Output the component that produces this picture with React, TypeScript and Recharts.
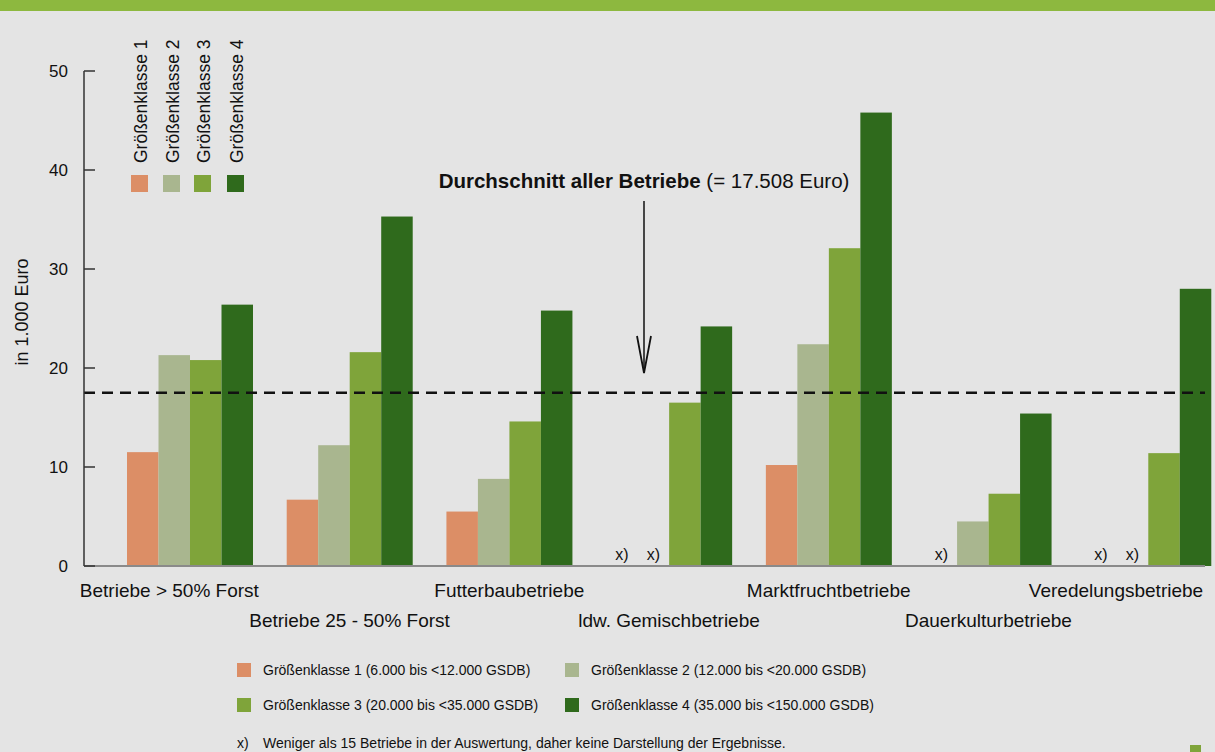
import { BarChart, Bar, XAxis, YAxis, ReferenceLine } from "recharts";

const categories = [
  "Betriebe > 50% Forst",
  "Betriebe 25 - 50% Forst",
  "Futterbaubetriebe",
  "ldw. Gemischbetriebe",
  "Marktfruchtbetriebe",
  "Dauerkulturbetriebe",
  "Veredelungsbetriebe",
];

// in 1.000 Euro, null = fewer than 15 farms ("x)")
const gk1 = [11.5, 6.7, 5.5, null, 10.2, null, null];
const gk2 = [21.3, 12.2, 8.8, null, 22.4, 4.5, null];
const gk3 = [20.8, 21.6, 14.6, 16.5, 32.1, 7.3, 11.4];
const gk4 = [26.4, 35.3, 25.8, 24.2, 45.8, 15.4, 28.0];

const yTicks = [0, 10, 20, 30, 40, 50];
const mean = 17.508;

const seriesNames = ["Größenklasse 1", "Größenklasse 2", "Größenklasse 3", "Größenklasse 4"];
const legendNames = [
  "Größenklasse 1 (6.000 bis <12.000 GSDB)",
  "Größenklasse 2 (12.000 bis <20.000 GSDB)",
  "Größenklasse 3 (20.000 bis <35.000 GSDB)",
  "Größenklasse 4 (35.000 bis <150.000 GSDB)",
];
const footnote = "Weniger als 15 Betriebe in der Auswertung, daher keine Darstellung der Ergebnisse.";

const colors = ["#dc8e66", "#a9b68f", "#7fa43a", "#2f6a1c"];
const FONT = "Arial, 'Liberation Sans', Helvetica, sans-serif";

const series = [gk1, gk2, gk3, gk4];
const keys = ["gk1", "gk2", "gk3", "gk4"];
const data = categories.map((name, i) => {
  const row: any = { name };
  series.forEach((s, k) => {
    row[keys[k]] = s[i] ?? 0;
    row["m" + k] = s[i] == null;
  });
  return row;
});

// bar shape: draws the rect, or "x)" where the group has no result
function makeShape(k: number) {
  return (props: any) => {
    const { x, y, width, height, payload } = props;
    if (payload["m" + k]) {
      return (
        <text x={x + width / 2} y={y + height - 6} textAnchor="middle" fontSize={16} fill="#111" fontFamily={FONT}>
          x)
        </text>
      );
    }
    return <rect x={x} y={y} width={width} height={height} fill={colors[k]} />;
  };
}

function CategoryTick(props: any) {
  const { x, y, payload, index } = props;
  let anchor: "start" | "middle" | "end" = "middle";
  let tx = x;
  if (index === 0) {
    anchor = "start";
    tx = x - 110;
  } else if (index === categories.length - 1) {
    anchor = "end";
    tx = x + 55;
  }
  return (
    <text x={tx} y={y + (index % 2 === 0 ? 31 : 61)} textAnchor={anchor} fontSize={19} fill="#111" fontFamily={FONT}>
      {payload.value}
    </text>
  );
}

export default function App() {
  return (
    <div
      style={{
        position: "absolute",
        left: 0,
        top: 0,
        width: 1215,
        height: 752,
        background: "#e4e4e4",
        overflow: "hidden",
        fontFamily: FONT,
      }}
    >
      <div style={{ position: "absolute", left: 0, top: 0, width: 1215, height: 11, background: "#8db83f" }} />
      <div style={{ position: "absolute", left: 0, top: 0 }}>
        <BarChart
          width={1215}
          height={752}
          data={data}
          margin={{ top: 71, right: 10, bottom: 106, left: 0 }}
          barGap={0}
          barSize={31.5}
        >
          <XAxis
            dataKey="name"
            interval={0}
            height={80}
            tickSize={0}
            tickMargin={0}
            tickLine={false}
            padding={{ left: 26, right: -23 }}
            axisLine={{ stroke: "#8a8a8a", strokeWidth: 2 }}
            tick={<CategoryTick />}
          />
          <YAxis
            width={84}
            domain={[0, 50]}
            ticks={yTicks}
            interval={0}
            tickSize={-11}
            tickMargin={27}
            axisLine={{ stroke: "#333", strokeWidth: 1.5 }}
            tickLine={{ stroke: "#333", strokeWidth: 1.5 }}
            tick={{ fontSize: 17, fill: "#111", fontFamily: FONT }}
          />
          {keys.map((key, k) => (
            <Bar
              key={key}
              dataKey={key}
              fill={colors[k]}
              isAnimationActive={false}
              minPointSize={(_v: number, i: number) => (series[k][i] == null ? 1 : 0)}
              shape={makeShape(k)}
            />
          ))}
          <ReferenceLine y={mean} stroke="#111" strokeWidth={2.5} strokeDasharray="11 7" />
        </BarChart>
      </div>
      <svg
        width={1215}
        height={752}
        style={{ position: "absolute", left: 0, top: 0, pointerEvents: "none" }}
        fontFamily={FONT}
      >
        {/* y title */}
        <text
          x={22}
          y={312}
          transform="rotate(-90 22 312)"
          textAnchor="middle"
          dominantBaseline="central"
          fontSize={18}
          fill="#111"
        >
          in 1.000 Euro
        </text>

        {/* top-left legend */}
        {seriesNames.map((n, i) => {
          const cx = [141, 173, 204, 237][i];
          return (
            <g key={n}>
              <text
                x={cx}
                y={163}
                transform={`rotate(-90 ${cx} 163)`}
                dominantBaseline="central"
                fontSize={17.5}
                fill="#111"
              >
                {n}
              </text>
              <rect x={cx - 10} y={175} width={17} height={17} fill={colors[i]} />
            </g>
          );
        })}

        {/* mean annotation */}
        <text x={644} y={188} textAnchor="middle" fontSize={20.5} fill="#111">
          <tspan fontWeight="bold">Durchschnitt aller Betriebe</tspan>
          <tspan> (= 17.508 Euro)</tspan>
        </text>
        <line x1={644} y1={201} x2={644} y2={372} stroke="#111" strokeWidth={1.5} />
        <polyline points="637,336 644,373 651,336" fill="none" stroke="#111" strokeWidth={1.8} />

        {/* bottom legend */}
        {legendNames.map((n, i) => {
          const lx = i % 2 === 0 ? 237 : 565;
          const ly = i < 2 ? 670 : 705;
          return (
            <g key={n}>
              <rect x={lx} y={ly - 7} width={14} height={14} fill={colors[i]} />
              <text x={lx + 26} y={ly} dominantBaseline="central" fontSize={14} fill="#111">
                {n}
              </text>
            </g>
          );
        })}
        <text x={237} y={743} dominantBaseline="central" fontSize={14} fill="#111">
          x)
        </text>
        <text x={263} y={743} dominantBaseline="central" fontSize={14} fill="#111">
          {footnote}
        </text>
        <rect x={1190} y={745} width={11} height={7} fill="#7fa43a" />
      </svg>
    </div>
  );
}
